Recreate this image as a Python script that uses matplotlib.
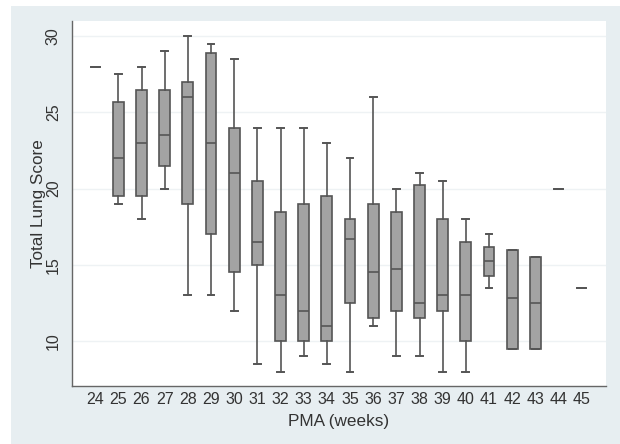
import matplotlib
matplotlib.use('Agg')
import matplotlib.pyplot as plt
from matplotlib.patches import Rectangle

# PMA weeks and box summary values
weeks = list(range(24, 46))
whislo = [28, 19, 18, 20, 13, 13, 12, 8.5, 8, 9, 8.5, 8, 11, 9, 9, 8, 8, 13.5, 9.5, 9.5, 20, 13.5]
q1 = [28, 19.5, 19.5, 21.5, 19, 17, 14.5, 15, 10, 10, 10, 12.5, 11.5, 12, 11.5, 12, 10, 14.3, 9.5, 9.5, 20, 13.5]
med = [28, 22, 23, 23.5, 26, 23, 21, 16.5, 13, 12, 11, 16.7, 14.5, 14.75, 12.5, 13, 13, 15.25, 12.8, 12.5, 20, 13.5]
q3 = [28, 25.7, 26.5, 26.5, 27, 28.9, 24, 20.5, 18.5, 19, 19.5, 18, 19, 18.5, 20.25, 18, 16.5, 16.2, 16, 15.5, 20, 13.5]
whishi = [28, 27.5, 28, 29, 30, 29.5, 28.5, 24, 24, 24, 23, 22, 26, 20, 21, 20.5, 18, 17, 16, 15.5, 20, 13.5]

y_ticks = [10, 15, 20, 25, 30]

plt.rcParams['font.family'] = ['Liberation Sans', 'DejaVu Sans']

fig = plt.figure(figsize=(6.2, 4.44), dpi=100)
fig.patch.set_facecolor('white')

# light bluish-gray graph region (Stata style)
bg = Rectangle((11 / 620, 0), 1 - 11 / 620, 438 / 444,
               transform=fig.transFigure, facecolor='#e7eef1',
               edgecolor='none', zorder=-10)
fig.add_artist(bg)

ax = fig.add_axes([72 / 620, 58 / 444, 534 / 620, 365 / 444])
ax.set_zorder(1)
ax.set_facecolor('white')

stats = []
for i, w in enumerate(weeks):
    stats.append(dict(label=str(w), whislo=whislo[i], q1=q1[i], med=med[i],
                      q3=q3[i], whishi=whishi[i], fliers=[]))

edge = '#555555'
ax.bxp(stats, positions=weeks, widths=0.47, patch_artist=True,
       showfliers=False, manage_ticks=False,
       boxprops=dict(facecolor='#a3a3a3', edgecolor=edge, linewidth=1.2),
       medianprops=dict(color=edge, linewidth=1.2),
       whiskerprops=dict(color=edge, linewidth=1.2),
       capprops=dict(color=edge, linewidth=1.4),
       capwidths=0.3, zorder=3)

ax.set_xlim(23, 46.05)
ax.set_ylim(7.05, 31.0)
ax.set_xticks(weeks)
ax.set_xticklabels([str(w) for w in weeks])
ax.set_yticks(y_ticks)
ax.set_yticklabels([str(t) for t in y_ticks], rotation=90, va='center')

ax.grid(axis='y', color='#eef2f4', linewidth=1.0, zorder=0)
ax.set_axisbelow(True)

for s in ['top', 'right']:
    ax.spines[s].set_visible(False)
for s in ['left', 'bottom']:
    ax.spines[s].set_color('#666666')
    ax.spines[s].set_linewidth(1.0)

ax.tick_params(axis='both', length=0, labelsize=11.5, colors='#333333')
ax.tick_params(axis='x', pad=4)
ax.tick_params(axis='y', pad=8)

ax.set_xlabel('PMA (weeks)', fontsize=12.3, color='#333333', labelpad=5)
ax.set_ylabel('Total Lung Score', fontsize=12.3, color='#333333', labelpad=0)

fig.savefig('out.png', dpi=100, facecolor=fig.get_facecolor())
